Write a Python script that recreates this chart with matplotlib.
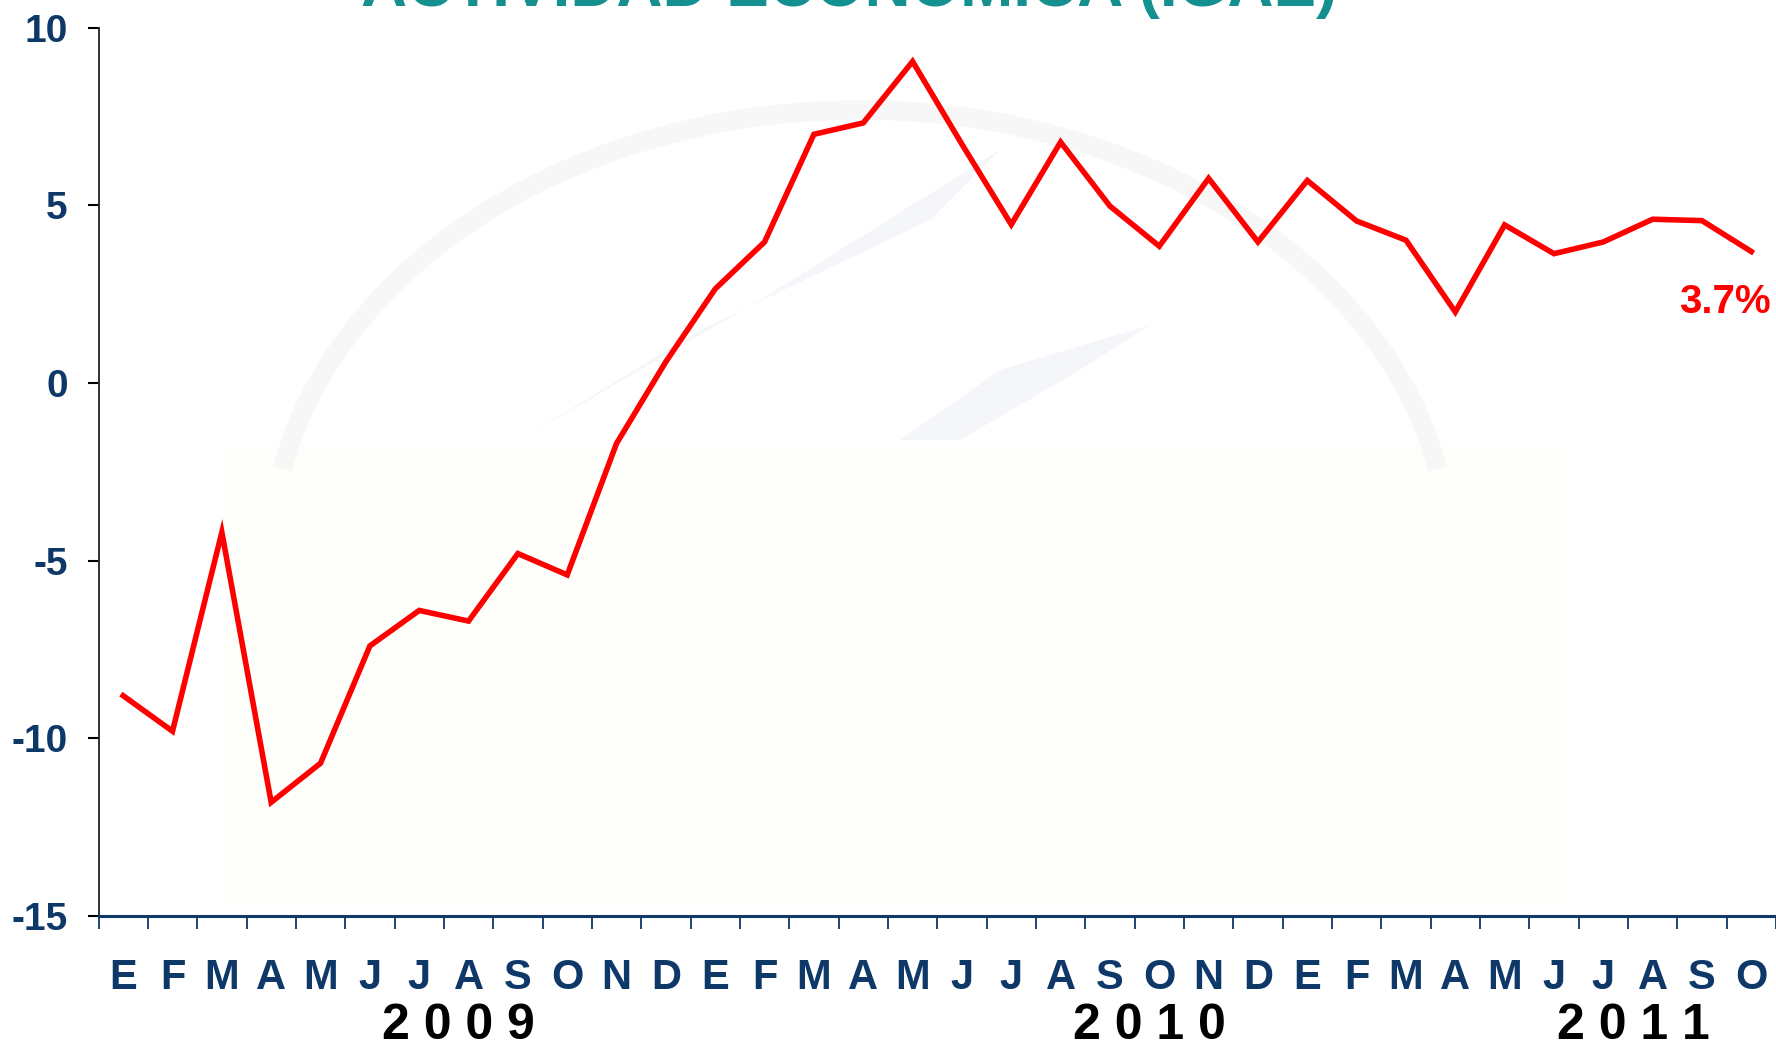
import matplotlib
matplotlib.use("Agg")
import matplotlib.pyplot as plt
import matplotlib.patches as mpatches
import matplotlib.transforms as mtransforms
import numpy as np

plt.rcParams['font.family'] = ['Liberation Sans', 'DejaVu Sans']

# monthly IGAE annual change (%), Jan 2009 - Oct 2011
months = ['E', 'F', 'M', 'A', 'M', 'J', 'J', 'A', 'S', 'O', 'N', 'D',
          'E', 'F', 'M', 'A', 'M', 'J', 'J', 'A', 'S', 'O', 'N', 'D',
          'E', 'F', 'M', 'A', 'M', 'J', 'J', 'A', 'S', 'O']
igae = [-8.8, -9.8, -4.2, -11.8, -10.7, -7.4, -6.4, -6.7, -4.8, -5.4, -1.7, 0.6,
        2.65, 3.97, 7.0, 7.32, 9.05, 6.72, 4.46, 6.78, 4.98, 3.85, 5.76, 3.97,
        5.70, 4.56, 4.02, 2.0, 4.45, 3.64, 3.97, 4.61, 4.57, 3.7]
years = ['2 0 0 9', '2 0 1 0', '2 0 1 1']
year_pos = [6.8, 20.8, 30.6]
last_label = '3.7%'

navy = '#0d3868'
teal = '#13908f'

fig = plt.figure(figsize=(17.76, 10.47), dpi=100)

# very faint watermark behind the plot
fig.patches.append(mpatches.Rectangle((221 / 1776, 1 - 906 / 1047), 1340 / 1776, 459 / 1047,
                                      transform=fig.transFigure, facecolor='#fefefa',
                                      edgecolor='none', zorder=0))
fig.patches.append(mpatches.Arc((860 / 1776, 1 - 560 / 1047), 1180 / 1776, 900 / 1047,
                                theta1=15, theta2=165, transform=fig.transFigure,
                                color='#f7f7f8', lw=14, zorder=0))
for pts in ([(520, 440), (760, 300), (1000, 150), (930, 220), (700, 330)],
            [(900, 440), (1000, 370), (1150, 325), (1080, 370), (960, 440)]):
    poly = [(x / 1776, 1 - y / 1047) for x, y in pts]
    fig.patches.append(mpatches.Polygon(poly, closed=True, transform=fig.transFigure,
                                        facecolor='#eef1f5', edgecolor='none', alpha=0.6,
                                        zorder=0))

ax = fig.add_axes((98.5 / 1776, 1 - 916 / 1047, 1 - 98.5 / 1776, (916 - 27.7) / 1047))
ax.set_facecolor('none')
ax.set_zorder(2)

x = np.arange(len(igae))
ax.plot(x, igae, color='red', lw=4.0, solid_joinstyle='miter', zorder=3)

ax.set_xlim(-0.5, len(igae) - 0.5)
ax.set_ylim(-15, 10)
ax.set_yticks([-15, -10, -5, 0, 5, 10])
ax.set_yticklabels(['-15', '-10', '-5', '0', '5', '10'])

ax.set_xticks(x)
ax.set_xticklabels(months)
ax.set_xticks(np.arange(len(igae) + 1) - 0.5, minor=True)
ax.tick_params(axis='x', which='major', length=0, pad=30, labelsize=30,
               labelcolor=navy)
ax.tick_params(axis='x', which='minor', length=9, width=1.3, color=navy, direction='out')
ax.tick_params(axis='y', length=8, width=1.5, color='black', pad=14, labelsize=28,
               labelcolor=navy)
for lab in ax.get_xticklabels() + ax.get_yticklabels():
    lab.set_fontweight('bold')

ax.spines['top'].set_visible(False)
ax.spines['right'].set_visible(False)
ax.spines['left'].set_color('#222222')
ax.spines['left'].set_linewidth(1.3)
ax.spines['bottom'].set_color(navy)
ax.spines['bottom'].set_linewidth(2.2)

trans = mtransforms.blended_transform_factory(ax.transData, fig.transFigure)
for yr, px in zip(years, year_pos):
    ax.text(px, 1 - 1026 / 1047, yr, transform=trans, ha='center', va='center',
            fontsize=36, fontweight='bold', color='black', clip_on=False)

ax.annotate(last_label, xy=(x[-1], igae[-1]), xytext=(-19, -36), textcoords='offset points',
            ha='center', va='center', fontsize=29, fontweight='bold', color='red',
            annotation_clip=False)

fig.text(849 / 1776, 1 - 6 / 1047, 'ACTIVIDAD ECONOMICA (IGAE)', ha='center', va='baseline',
         fontsize=46, fontweight='bold', color=teal)

fig.savefig('out.png', dpi=100)
